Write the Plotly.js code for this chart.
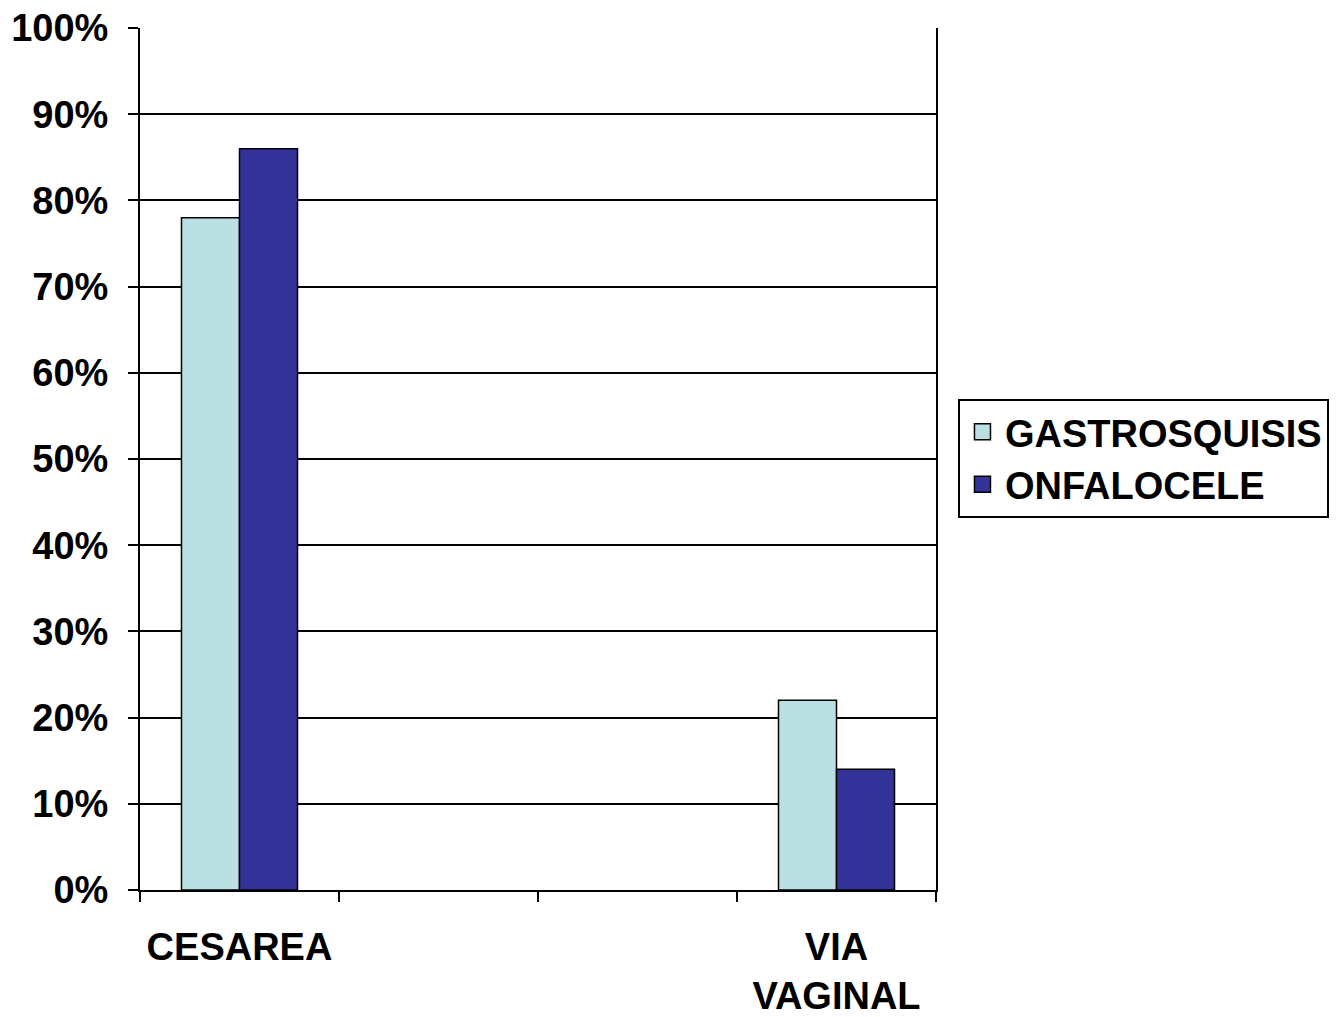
<!DOCTYPE html>
<html>
<head>
<meta charset="utf-8">
<script src="https://cdn.plot.ly/plotly-3.0.1.min.js"></script>
<style>html,body{margin:0;padding:0;background:#fff;}#chart{width:1342px;height:1017px;}</style>
</head>
<body>
<div id="chart"></div>
<script>
var categories = ["CESAREA", " ", "  ", "VIA<br>VAGINAL"];
var gastrosquisis = [0.78, null, null, 0.22];
var onfalocele = [0.86, null, null, 0.14];
var seriesNames = ["GASTROSQUISIS", "ONFALOCELE"];
var seriesColors = ["#BAE0E3", "#333399"];
var yTickVals = [0, 0.1, 0.2, 0.3, 0.4, 0.5, 0.6, 0.7, 0.8, 0.9, 1.0];

var fam = "Liberation Sans, Arial, sans-serif";

var data = [
  {type: "bar", name: seriesNames[0], x: categories, y: gastrosquisis, showlegend: false,
   legendgroup: "g", marker: {color: seriesColors[0], line: {color: "#000", width: 1.5}}},
  {type: "bar", name: seriesNames[1], x: categories, y: onfalocele, showlegend: false,
   legendgroup: "o", marker: {color: seriesColors[1], line: {color: "#000", width: 1.5}}},
  {type: "scatter", mode: "markers", name: seriesNames[0], x: [null], y: [null], legendgroup: "g",
   marker: {symbol: "square", size: 16, color: seriesColors[0], line: {color: "#000", width: 1.5}}},
  {type: "scatter", mode: "markers", name: seriesNames[1], x: [null], y: [null], legendgroup: "o",
   marker: {symbol: "square", size: 16, color: seriesColors[1], line: {color: "#000", width: 1.5}}}
];

var layout = {
  width: 1342, height: 1017,
  margin: {l: 140, r: 406, t: 28, b: 127, pad: 0},
  paper_bgcolor: "#fff", plot_bgcolor: "#fff",
  font: {family: fam, size: 38, color: "#000"},
  barmode: "group",
  bargap: 0.417,
  bargroupgap: 0,
  showlegend: true,
  legend: {
    x: 1.0276, xanchor: "left", y: 0.501, yanchor: "middle",
    bordercolor: "#000", borderwidth: 2, bgcolor: "#fff",
    font: {family: fam, size: 38, color: "#000", weight: "bold"},
    tracegroupgap: 0, itemwidth: 35, itemsizing: "trace"
  },
  xaxis: {
    type: "category",
    tickson: "boundaries",
    ticks: "outside", ticklen: 10, tickwidth: 2, tickcolor: "#000",
    showline: true, linecolor: "#000", linewidth: 2,
    showgrid: false, zeroline: false,
    ticklabelstandoff: 22,
    tickfont: {family: fam, size: 38, color: "#000", weight: "bold"},
    fixedrange: true
  },
  yaxis: {
    range: [0, 1],
    tickvals: yTickVals,
    tickformat: ".0%",
    ticks: "outside", ticklen: 10, tickwidth: 2, tickcolor: "#000",
    showline: true, linecolor: "#000", linewidth: 2, mirror: true,
    showgrid: true, gridcolor: "#000", gridwidth: 2,
    zeroline: false,
    ticklabelstandoff: 12,
    tickfont: {family: fam, size: 38, color: "#000", weight: "bold"},
    fixedrange: true
  }
};

Plotly.newPlot("chart", data, layout, {displayModeBar: false, staticPlot: true});
</script>
</body>
</html>
